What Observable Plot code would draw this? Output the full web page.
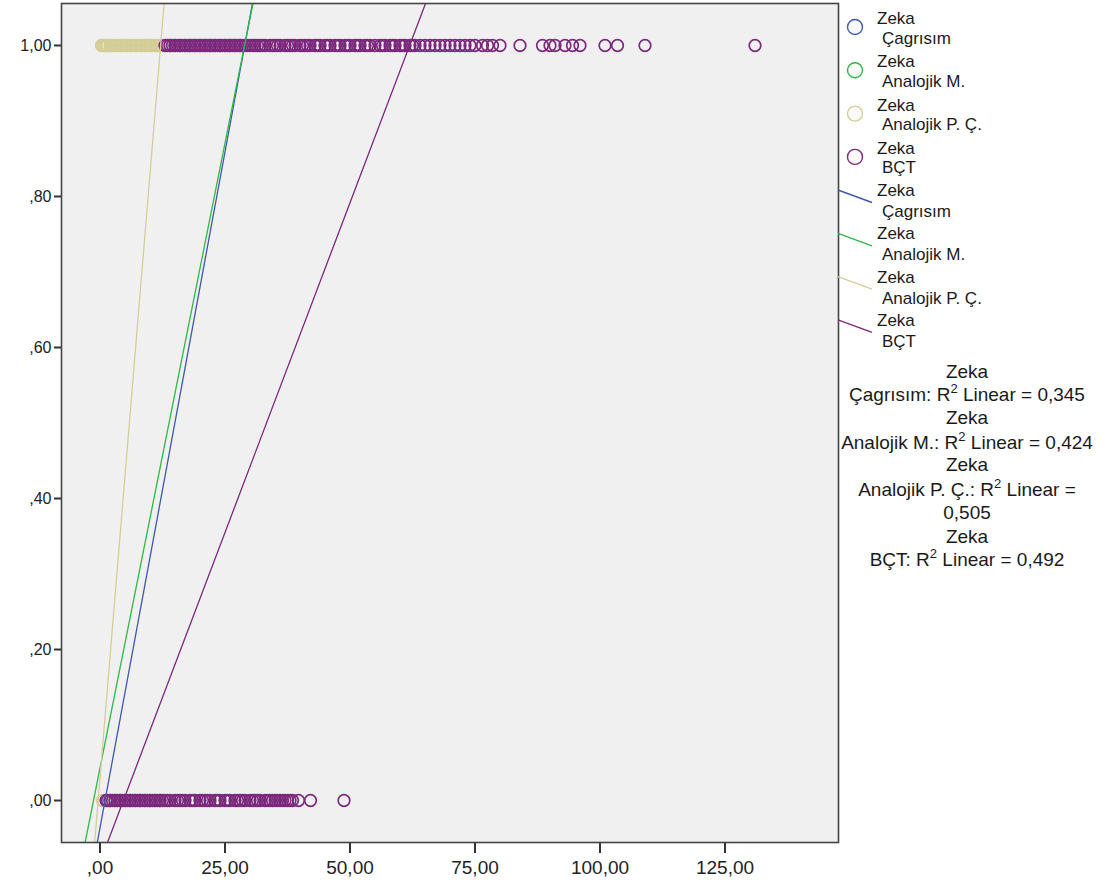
<!DOCTYPE html>
<html><head><meta charset="utf-8">
<script src="https://cdn.jsdelivr.net/npm/d3@7"></script>
<script src="https://cdn.jsdelivr.net/npm/@observablehq/plot@0.6"></script>
<style>
body{margin:0;background:#fff;font-family:"Liberation Sans",Arial,sans-serif;}
#wrap{position:relative;width:1115px;height:885px;overflow:hidden;}
#wrap > svg{position:absolute;left:0;top:0;}
#chart [aria-label="x-axis tick"] path,#chart [aria-label="y-axis tick"] path{stroke-width:2;stroke:#333;}
#chart g[aria-label="y-axis tick label"], #chart g[aria-label="y-axis"] text{font-size:16px;}
</style></head><body><div id="wrap"><div id="chart"></div></div>
<script>
// ---- data ----
const series = ["Çagrısım", "Analojik M.", "Analojik P. Ç.", "BÇT"];
const colors = ["#3E58AC", "#2EB848", "#D3CE97", "#7C287D"];
const intercepts = [-0.036, 0.043, 0.030, -0.0818];
const slopes = [0.0358, 0.0331, 0.080, 0.01747];
const r2Values = ["0,345", "0,424", "0,505", "0,492"];
const xTicks = [0, 25, 50, 75, 100, 125];
const yTicks = [0, 0.2, 0.4, 0.6, 0.8, 1];
const xDomain = [-7.7, 147.7];
const yDomain = [-0.0556, 1.0556];

// x values of the cases at Zeka = 1 (High) and Zeka = 0 (Low)
const cagrisimHigh = [14, 16, 18, 20, 22, 24, 26, 28];
const cagrisimLow = [2, 4, 6, 8, 10, 12];
const analojikMHigh = [15, 17, 19, 21, 23, 25, 27];
const analojikMLow = [3, 5, 7, 9, 11];
const analojikPCHigh = [0.3, 0.5, 0.75, 1, 1.25, 1.5, 2, 2.25, 2.5, 3, 3.25, 3.5, 4, 4.25, 4.5, 5, 5.25, 5.5, 6, 6.25, 6.5, 7, 7.25, 7.5, 8, 8.25, 8.5, 9, 9.25, 9.5, 10, 10.25, 10.5, 11, 11.25, 11.5, 12];
const analojikPCLow = [0.5];
const bctHigh = [13, 13.5, 14, 14.5, 15, 15.5, 16, 16.5, 17, 17.5, 18, 18.5, 19, 19.5, 20, 20.5, 21, 21.5, 22, 22.5, 23, 23.5, 24, 24.5, 25, 25.5, 26, 26.5, 27, 27.5, 28, 28.5, 29, 29.5, 30, 30.5, 31, 31.5, 32, 32.5, 33, 34, 34.5, 35, 35.5, 36, 37, 37.5, 38, 38.5, 39, 40, 40.5, 41, 41.5, 42, 43, 43.5, 44, 45, 45.5, 46, 47, 47.5, 48, 49, 49.5, 50, 51, 51.5, 52, 53, 53.5, 54, 55, 56, 56.5, 57, 58, 58.5, 59, 60, 60.5, 61, 62, 62.5, 63, 64, 65, 66, 67, 68, 69, 70, 71, 72, 73, 74, 75, 76.5, 77.5, 78.5, 80, 84, 88.5, 90, 91, 93, 94.5, 96, 101, 103.5, 109, 131];
const bctLow = [1.2, 1.5, 2, 2.5, 3, 3.5, 4, 4.5, 5, 5.5, 6, 6.5, 7, 7.5, 8, 8.5, 9, 9.5, 10, 10.5, 11, 11.5, 12, 12.5, 13, 13.5, 14, 15, 15.5, 16, 16.5, 17, 18, 18.5, 19, 20, 20.5, 21, 21.5, 22, 23, 23.5, 24, 25, 25.5, 26, 27, 27.5, 28, 28.5, 29, 30, 30.5, 31, 31.5, 32, 33, 33.5, 34, 34.5, 35, 35.5, 36, 36.5, 37, 37.5, 38, 38.5, 39.7, 42.1, 48.8];

// ---- build tables ----
const groups = [
  [cagrisimHigh, cagrisimLow],
  [analojikMHigh, analojikMLow],
  [analojikPCHigh, analojikPCLow],
  [bctHigh, bctLow]
];
const points = [];
groups.forEach(([hi, lo], i) => {
  hi.forEach(x => points.push({series: series[i], x, y: 1}));
  lo.forEach(x => points.push({series: series[i], x, y: 0}));
});
const fitLines = series.flatMap((s, i) => xDomain.map(x => ({series: s, x, y: intercepts[i] + slopes[i] * x})));

const fmt = d => { const s = d.toFixed(2).replace(".", ","); return s.startsWith("0,") ? s.slice(1) : s; };

const chart = Plot.plot({
  width: 840,
  height: 885,
  marginLeft: 61, marginRight: 2, marginTop: 3, marginBottom: 43,
  style: {fontFamily: "'Liberation Sans', Arial, sans-serif", fontSize: "19px", color: "#222", background: "transparent", overflow: "visible"},
  x: {domain: xDomain, ticks: xTicks, tickFormat: fmt, tickSize: 11, tickPadding: 7, label: null},
  y: {domain: yDomain, ticks: yTicks, tickFormat: fmt, tickSize: 7, tickPadding: 3, label: null},
  color: {domain: series, range: colors},
  marks: [
    Plot.frame({fill: "#f0f0f0", stroke: null}),
    Plot.dot(points, {x: "x", y: "y", stroke: "series", r: 5.8, strokeWidth: 1.7, fill: "none"}),
    Plot.line(fitLines, {x: "x", y: "y", z: "series", stroke: "series", strokeWidth: 1.3, clip: true}),
    Plot.frame({stroke: "#444", strokeWidth: 1.6})
  ]
});
document.getElementById("chart").appendChild(chart);

// ---- legend ----
const svg = d3.select("#wrap").append("svg")
  .attr("width", 1115).attr("height", 885)
  .style("pointer-events", "none")
  .attr("font-family", "'Liberation Sans', Arial, sans-serif")
  .attr("font-size", 17).attr("fill", "#1a1a1a");
const base = 6;
series.forEach((s, i) => {
  const y0 = 18 + 43.3 * i;
  svg.append("circle").attr("cx", 855).attr("cy", y0 + 9).attr("r", 7.5)
    .attr("fill", "#fafafa").attr("stroke", colors[i]).attr("stroke-width", 1.4);
  svg.append("text").attr("x", 877).attr("y", y0 + base).text("Zeka");
  svg.append("text").attr("x", 882).attr("y", y0 + 19.5 + base).text(s);
});
series.forEach((s, i) => {
  const y0 = 190 + 43.3 * i;
  svg.append("line").attr("x1", 838).attr("y1", y0).attr("x2", 872).attr("y2", y0 + 12.5)
    .attr("stroke", colors[i]).attr("stroke-width", 1.4);
  svg.append("text").attr("x", 877).attr("y", y0 + base).text("Zeka");
  svg.append("text").attr("x", 882).attr("y", y0 + 21 + base).text(s);
});
// R² block
const rLines = [];
series.forEach((s, i) => {
  rLines.push({kind: "plain", text: "Zeka"});
  if (i === 2) {
    rLines.push({kind: "r2", pre: s + ": R", post: " Linear ="});
    rLines.push({kind: "plain", text: r2Values[i]});
  } else {
    rLines.push({kind: "r2", pre: s + ": R", post: " Linear = " + r2Values[i]});
  }
});
const rY = [372, 395, 418, 443, 465, 490, 513, 537, 560];
rLines.forEach((l, j) => {
  const t = svg.append("text").attr("x", 967).attr("y", rY[j] + base).attr("text-anchor", "middle").attr("font-size", 19);
  if (l.kind === "plain") t.text(l.text);
  else {
    t.append("tspan").text(l.pre);
    t.append("tspan").attr("dy", -8).attr("font-size", 13).text("2");
    t.append("tspan").attr("dy", 8).text(l.post);
  }
});
</script></body></html>
